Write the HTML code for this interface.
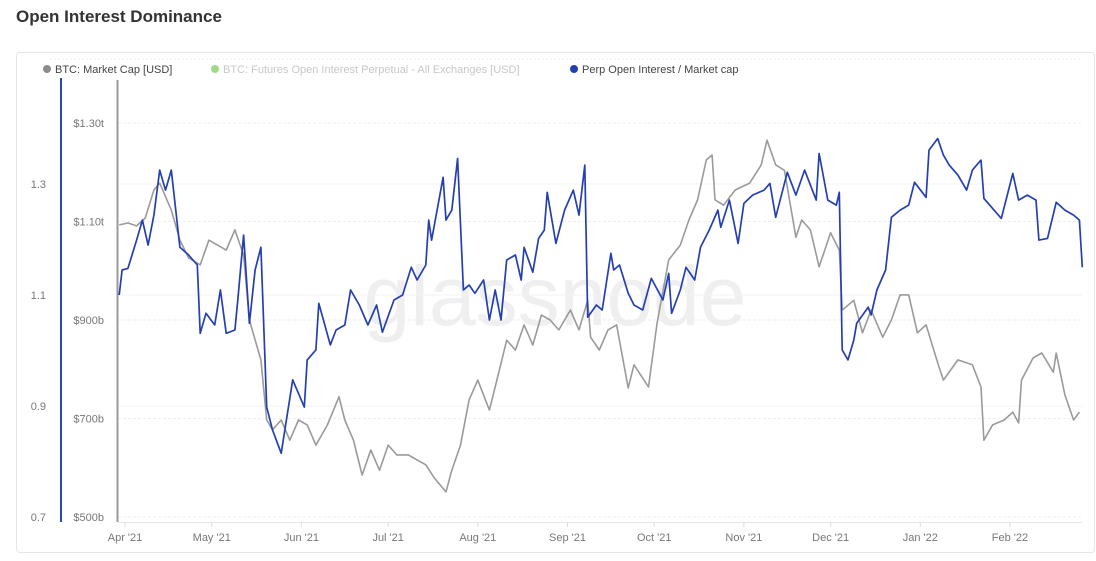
<!DOCTYPE html>
<html><head><meta charset="utf-8"><style>
body{margin:0;background:#fff;font-family:"Liberation Sans",sans-serif;}
#wrap{position:relative;width:1096px;height:561px;overflow:hidden;}
</style></head><body>
<div id="wrap">
<svg id="chart" width="1096" height="561">
<text x="16" y="22" font-size="17" fill="#333" font-weight="bold">Open Interest Dominance</text>
<rect x="16.5" y="52.5" width="1078" height="500" rx="3" fill="none" stroke="#e6e6e6"/>
<line x1="50" y1="59" x2="1082" y2="59" stroke="#eee" stroke-dasharray="2,2"/>
<g font-size="11">
<g><circle cx="47" cy="69" r="4" fill="#8c8c8c"/><text x="55" y="73" fill="#444">BTC: Market Cap [USD]</text></g>
<g><circle cx="215" cy="69" r="4" fill="#9fd98a"/><text x="223" y="73" fill="#c8c8c8">BTC: Futures Open Interest Perpetual - All Exchanges [USD]</text></g>
<g><circle cx="574" cy="69" r="4" fill="#2440b0"/><text x="582" y="73" fill="#444">Perp Open Interest / Market cap</text></g>
</g>
<text x="555" y="325" font-size="84" fill="#efefef" text-anchor="middle">glassnode</text>
<g id="grid"></g>
<g id="axes"></g>
<g id="series"></g>
</svg>
</div>
<script>
const mcDays=[-2,1,4,7,10,12,16,19,22,26,29,32,35,38,41,43,47,49,51,54,57,60,63,66,70,74,76,79,82,85,88,91,94,98,101,104,107,111,113,116,119,122,126,129,132,135,138,141,144,147,150,154,157,160,161,164,167,170,174,176,181,184,188,192,195,198,201,203,204,207,211,216,220,222,225,228,232,234,237,240,244,247,248,252,255,258,262,265,268,271,274,277,281,283,288,293,296,297,300,304,307,309,310,314,317,321,322,325,328,330];
const mcValues=[1093,1097,1091,1107,1164,1178,1123,1062,1026,1012,1062,1052,1042,1083,1032,900,819,697,677,697,656,697,687,646,687,744,697,656,585,636,595,646,626,626,616,606,579,551,595,646,738,778,717,788,859,839,890,849,910,900,880,920,880,940,865,839,880,890,762,809,764,894,1022,1052,1103,1144,1225,1235,1144,1133,1164,1178,1215,1265,1215,1204,1068,1103,1083,1008,1077,1042,920,940,874,920,865,900,951,951,874,890,813,778,819,809,764,656,687,697,713,691,778,823,833,794,833,748,697,713];
const ratioDays=[-2,-1,1,4,6,8,10,12,14,16,19,22,25,26,28,31,33,35,38,39,41,43,45,47,49,51,54,58,62,63,66,67,71,73,76,78,81,84,87,89,93,96,99,101,104,105,106,110,111,113,115,117,119,121,124,126,128,130,132,135,137,138,141,143,145,146,149,152,155,157,159,160,163,165,168,169,171,174,176,179,182,186,188,189,192,194,197,199,202,205,206,209,212,214,217,221,223,225,229,232,235,239,240,243,246,247,248,250,252,253,257,258,260,263,265,268,271,273,277,278,281,283,285,288,291,293,296,297,300,303,307,309,312,315,316,319,322,325,328,330,331];
const ratioValues=[1.100,1.145,1.148,1.199,1.235,1.190,1.244,1.325,1.289,1.325,1.186,1.172,1.154,1.031,1.067,1.046,1.109,1.031,1.037,1.091,1.208,1.049,1.145,1.186,0.898,0.857,0.815,0.947,0.898,0.983,1.001,1.085,1.010,1.037,1.046,1.109,1.082,1.046,1.082,1.033,1.091,1.100,1.150,1.127,1.154,1.235,1.199,1.312,1.235,1.253,1.346,1.109,1.118,1.103,1.127,1.055,1.109,1.055,1.163,1.172,1.127,1.186,1.141,1.202,1.217,1.285,1.193,1.253,1.289,1.244,1.334,1.060,1.082,1.073,1.175,1.145,1.154,1.103,1.082,1.073,1.130,1.091,1.139,1.067,1.109,1.150,1.127,1.186,1.217,1.253,1.222,1.271,1.193,1.265,1.280,1.289,1.301,1.240,1.321,1.280,1.325,1.271,1.355,1.271,1.262,1.285,1.001,0.983,1.019,1.049,1.078,1.064,1.109,1.145,1.240,1.253,1.262,1.303,1.276,1.361,1.382,1.352,1.334,1.316,1.289,1.325,1.343,1.274,1.256,1.238,1.319,1.271,1.280,1.271,1.199,1.202,1.267,1.253,1.244,1.235,1.150];
const mcTicks=[500,700,900,1100,1300];
const mcTickLabels=["$500b","$700b","$900b","$1.10t","$1.30t"];
const ratioTicks=[0.7,0.9,1.1,1.3];
const ratioTickLabels=["0.7","0.9","1.1","1.3"];
const monthDays=[0,30,61,91,122,153,183,214,244,275,306];
const monthLabels=["Apr '21","May '21","Jun '21","Jul '21","Aug '21","Sep '21","Oct '21","Nov '21","Dec '21","Jan '22","Feb '22"];

const NS="http://www.w3.org/2000/svg";
const xDay=d=>125+d*2.892;
const yMC=v=>517-(v-500)*0.4925;
const yR=r=>517-(r-0.7)*555;
function mk(tag,attrs,parent){const e=document.createElementNS(NS,tag);for(const k in attrs)e.setAttribute(k,attrs[k]);parent.appendChild(e);return e;}
const grid=document.getElementById('grid'),axes=document.getElementById('axes'),series=document.getElementById('series');

mcTicks.forEach((v,i)=>{
  const y=yMC(v);
  const g=mk('line',{x1:118,x2:1082,y1:y,y2:y,stroke:'#eeeeee','stroke-dasharray':'3,2'},grid);
  
  
  const t=mk('text',{x:104,y:y+4,'font-size':11,fill:'#777','text-anchor':'end'},axes);
  t.textContent=mcTickLabels[i];
  
  
});
ratioTicks.forEach((v,i)=>{
  const y=yR(v);
  if(i>0){const g=mk('line',{x1:118,x2:1082,y1:y,y2:y,stroke:'#f3f3f3'},grid);
  
  }
  const t=mk('text',{x:46,y:y+4,'font-size':11,fill:'#777','text-anchor':'end'},axes);
  t.textContent=ratioTickLabels[i];
  
  
});
const la=mk('line',{x1:61,x2:61,y1:78,y2:522,stroke:'#2c47b8','stroke-width':2},axes);


const ra=mk('line',{x1:117.5,x2:117.5,y1:80,y2:522,stroke:'#999','stroke-width':2},axes);


const xa=mk('line',{x1:118,x2:1082,y1:522.5,y2:522.5,stroke:'#e6e6e6'},axes);


monthDays.forEach((d,i)=>{
  const x=xDay(d);
  const tk=mk('line',{x1:x,x2:x,y1:522,y2:527,stroke:'#ddd'},axes);
  
  
  const t=mk('text',{x:x,y:541,'font-size':11,fill:'#777','text-anchor':'middle'},axes);
  t.textContent=monthLabels[i];
  
  
});
const mcPath=mk('polyline',{points:mcDays.map((d,i)=>xDay(d).toFixed(1)+','+yMC(mcValues[i]).toFixed(1)).join(' '),fill:'none',stroke:'#9a9a9a','stroke-width':1.6,'stroke-linejoin':'round'},series);


const rPath=mk('polyline',{points:ratioDays.map((d,i)=>xDay(d).toFixed(1)+','+yR(ratioValues[i]).toFixed(1)).join(' '),fill:'none',stroke:'#2440b0','stroke-width':1.7,'stroke-linejoin':'round'},series);


</script>
</body></html>
